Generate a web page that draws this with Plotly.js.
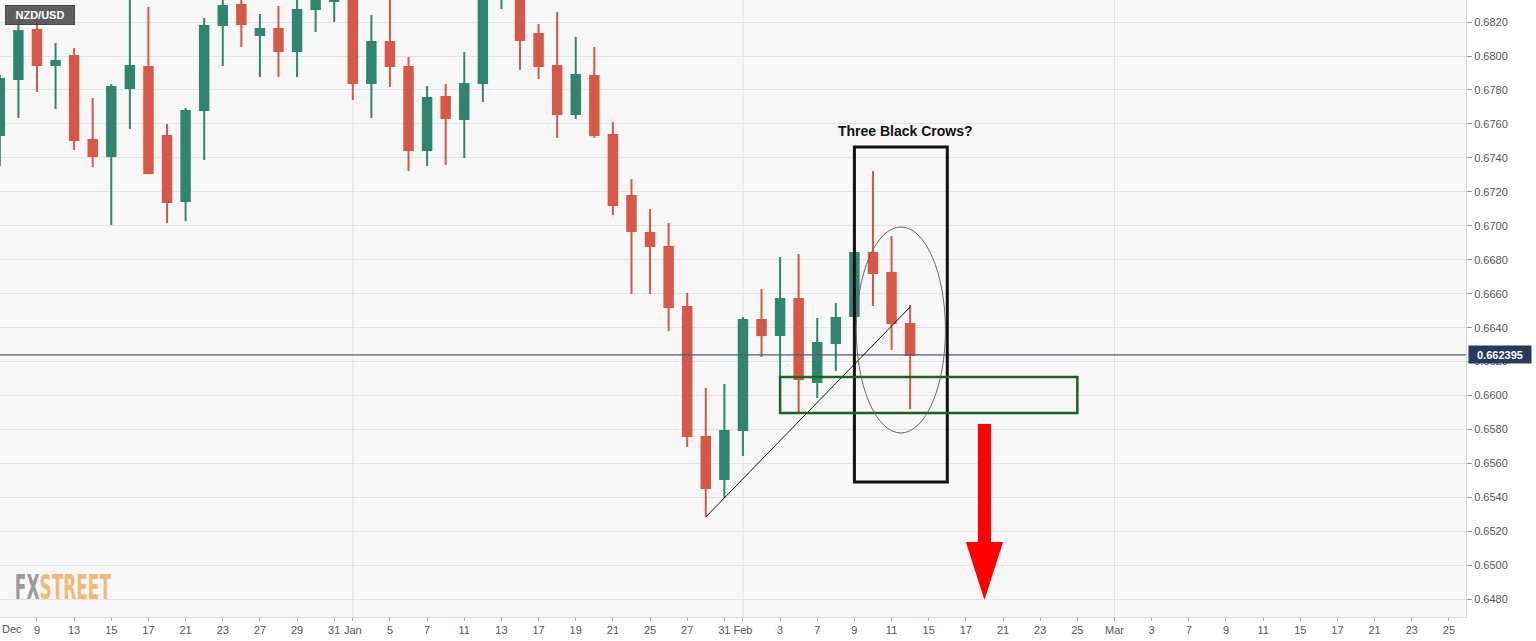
<!DOCTYPE html>
<html>
<head>
<meta charset="utf-8">
<script src="https://cdn.plot.ly/plotly-3.0.1.min.js"></script>
<style>
html,body{margin:0;padding:0;background:#ffffff;}
#chart{width:1536px;height:641px;}
</style>
</head>
<body>
<div id="chart"></div>
<script>
// ---- data (daily NZD/USD candles) ----
const dates = [
  '2021-12-07','2021-12-08','2021-12-09','2021-12-10','2021-12-13','2021-12-14','2021-12-15','2021-12-16','2021-12-17',
  '2021-12-20','2021-12-21','2021-12-22','2021-12-23','2021-12-24','2021-12-27','2021-12-28','2021-12-29','2021-12-30','2021-12-31',
  '2022-01-03','2022-01-04','2022-01-05','2022-01-06','2022-01-07','2022-01-10','2022-01-11','2022-01-12','2022-01-13','2022-01-14',
  '2022-01-17','2022-01-18','2022-01-19','2022-01-20','2022-01-21','2022-01-24','2022-01-25','2022-01-26','2022-01-27','2022-01-28',
  '2022-01-31','2022-02-01','2022-02-02','2022-02-03','2022-02-04','2022-02-07','2022-02-08','2022-02-09','2022-02-10','2022-02-11',
  '2022-02-14'
];
const opens = [
  0.67535,0.67865,0.68153,0.67947,0.68000,0.67505,0.67411,0.67812,0.67935,
  0.67529,0.67146,0.67682,0.68183,0.68301,0.68124,0.68159,0.68030,0.68277,0.68324,
  0.68340,0.67841,0.68083,0.67935,0.67447,0.67759,0.67629,0.67841,0.68380,0.68420,
  0.68130,0.67941,0.67659,0.67882,0.67535,0.67176,0.66958,0.66875,0.66522,0.65756,
  0.65509,0.65797,0.66445,0.66357,0.66569,0.66080,0.66310,0.66469,0.66840,0.66722,
  0.66422
];
const highs = [
  0.67888,0.68212,0.68242,0.68077,0.68047,0.67753,0.67835,0.68360,0.68289,
  0.67600,0.67694,0.68224,0.68380,0.68370,0.68248,0.68295,0.68360,0.68400,0.68420,
  0.68400,0.68242,0.68350,0.67994,0.67823,0.67835,0.68024,0.68440,0.68500,0.68480,
  0.68189,0.68259,0.68112,0.68053,0.67611,0.67276,0.67099,0.67017,0.66604,0.66045,
  0.66068,0.66463,0.66628,0.66816,0.66834,0.66457,0.66545,0.66846,0.67323,0.66940,
  0.66534
];
const lows = [
  0.67352,0.67635,0.67788,0.67688,0.67447,0.67346,0.67005,0.67570,0.67305,
  0.67017,0.67028,0.67388,0.67941,0.68053,0.67876,0.67876,0.67876,0.68142,0.68200,
  0.67741,0.67635,0.67818,0.67323,0.67352,0.67358,0.67399,0.67729,0.68277,0.67918,
  0.67865,0.67517,0.67629,0.67517,0.67064,0.66598,0.66598,0.66380,0.65697,0.65285,
  0.65397,0.65644,0.66227,0.66109,0.65892,0.65986,0.66145,0.66463,0.66528,0.66269,
  0.65921
];
const closes = [
  0.67865,0.68147,0.67947,0.67971,0.67505,0.67411,0.67818,0.67941,0.67311,
  0.67140,0.67676,0.68177,0.68295,0.68189,0.68159,0.68030,0.68271,0.68324,0.68380,
  0.67841,0.68083,0.67941,0.67447,0.67753,0.67635,0.67835,0.68400,0.68450,0.68094,
  0.67941,0.67659,0.67888,0.67535,0.67123,0.66969,0.66881,0.66522,0.65762,0.65456,
  0.65791,0.66445,0.66357,0.66569,0.66098,0.66310,0.66457,0.66840,0.66722,0.66428,
  0.662395
];
// future trading days shown on the axis (no candles yet)
const futureDays = [
  '2022-02-15','2022-02-16','2022-02-17','2022-02-18','2022-02-21','2022-02-22','2022-02-23','2022-02-24','2022-02-25','2022-02-28',
  '2022-03-01','2022-03-02','2022-03-03','2022-03-04','2022-03-07','2022-03-08','2022-03-09','2022-03-10','2022-03-11',
  '2022-03-14','2022-03-15','2022-03-16','2022-03-17','2022-03-18','2022-03-21','2022-03-22','2022-03-23','2022-03-24','2022-03-25',
  '2022-03-28','2022-03-29'
];
// x tick labels
const tickDays = [
  '2021-12-09','2021-12-13','2021-12-15','2021-12-17','2021-12-21','2021-12-23','2021-12-27','2021-12-29','2021-12-31',
  '2022-01-03','2022-01-05','2022-01-07','2022-01-11','2022-01-13','2022-01-17','2022-01-19','2022-01-21','2022-01-25','2022-01-27','2022-01-31',
  '2022-02-01','2022-02-03','2022-02-07','2022-02-09','2022-02-11','2022-02-15','2022-02-17','2022-02-21','2022-02-23','2022-02-25',
  '2022-03-01','2022-03-03','2022-03-07','2022-03-09','2022-03-11','2022-03-15','2022-03-17','2022-03-21','2022-03-23','2022-03-25'
];
const tickLabels = [
  '9','13','15','17','21','23','27','29','31',
  'Jan','5','7','11','13','17','19','21','25','27','31',
  'Feb','3','7','9','11','15','17','21','23','25',
  'Mar','3','7','9','11','15','17','21','23','25'
];
const monthStarts = ['2022-01-03','2022-02-01','2022-03-01'];
const symbol = 'NZD/USD';
const lastPrice = 0.662395;
const patternLabel = 'Three Black Crows?';

// ---- build ----
const allDays = dates.concat(futureDays);
const idx = d => allDays.indexOf(d);

const trace = {
  type: 'candlestick',
  x: dates, open: opens, high: highs, low: lows, close: closes,
  increasing: {line: {color: '#31856f', width: 2}, fillcolor: '#31856f'},
  decreasing: {line: {color: '#d65846', width: 2}, fillcolor: '#d65846'},
  whiskerwidth: 0,
  hoverinfo: 'skip',
  showlegend: false
};

const shapes = [];
monthStarts.forEach(d => shapes.push({
  type: 'line', xref: 'x', yref: 'paper', x0: idx(d), x1: idx(d), y0: 0, y1: 1,
  line: {color: '#e2e2e2', width: 1}, layer: 'below'
}));
// current price line
shapes.push({type: 'line', xref: 'paper', yref: 'y', x0: 0, x1: 1, y0: lastPrice, y1: lastPrice,
  line: {color: '#4d5d78', width: 1.3}});
// trendline from Jan 28 low
shapes.push({type: 'line', xref: 'x', yref: 'y', x0: idx('2022-01-28'), y0: 0.65285, x1: idx('2022-02-14'), y1: 0.66522,
  line: {color: '#111111', width: 1}});
// big black box
shapes.push({type: 'rect', xref: 'x', yref: 'y', x0: idx('2022-02-09'), x1: idx('2022-02-16'), y0: 0.65491, y1: 0.67464,
  line: {color: '#111111', width: 3}});
// green support box
shapes.push({type: 'rect', xref: 'x', yref: 'y', x0: idx('2022-02-03'), x1: idx('2022-02-25'), y0: 0.65897, y1: 0.66109,
  line: {color: '#1e6121', width: 2.5}});
// ellipse
shapes.push({type: 'circle', xref: 'x', yref: 'y', x0: idx('2022-02-09') + 0.1, x1: idx('2022-02-16') - 0.1, y0: 0.65780, y1: 0.66993,
  line: {color: '#666666', width: 1}});
// red down arrow
const ax = idx('2022-02-18');
shapes.push({type: 'path', xref: 'x', yref: 'y', fillcolor: '#ff0000', line: {width: 0},
  path: `M ${ax - 0.35} 0.65833 L ${ax + 0.35} 0.65833 L ${ax + 0.35} 0.65138 L ${ax + 1.0} 0.65138 L ${ax} 0.64796 L ${ax - 1.0} 0.65138 L ${ax - 0.35} 0.65138 Z`});

const fontFam = 'Liberation Sans, Arial, sans-serif';
const annotations = [
  {xref: 'x', yref: 'y', x: idx('2022-02-14') - 0.26, y: 0.67558, text: '<b>' + patternLabel + '</b>', showarrow: false,
   font: {family: fontFam, size: 14, color: '#111111'}},
  {xref: 'paper', yref: 'paper', x: 0.0034, y: 0.992, xanchor: 'left', yanchor: 'top', text: '<b>' + symbol + '</b>',
   showarrow: false, font: {family: fontFam, size: 11, color: '#ffffff'}, bgcolor: 'rgba(80,80,80,0.92)',
   bordercolor: 'rgba(60,60,60,0.9)', borderwidth: 1, borderpad: 2, width: 64, height: 14},
  {xref: 'paper', yref: 'y', x: 1, xshift: 2, y: lastPrice, xanchor: 'left', yanchor: 'middle', text: '<b>' + lastPrice.toFixed(6) + '</b>',
   showarrow: false, font: {family: fontFam, size: 11, color: '#ffffff'}, bgcolor: '#243b5e', borderpad: 2, width: 58, height: 13},
  {xref: 'paper', yref: 'paper', x: 0, y: 0, yshift: -4, xanchor: 'left', yanchor: 'top', text: 'Dec', showarrow: false,
   font: {family: fontFam, size: 11, color: '#555555'}},
  {xref: 'paper', yref: 'paper', x: 0.0095, y: 0.048, xanchor: 'left', yanchor: 'middle',
   text: '<span style="color:#9a9a9a">FX</span><span style="color:#f1b978">STREET</span>', showarrow: false,
   font: {family: 'DejaVu Sans Condensed, Liberation Sans, sans-serif', size: 34, weight: 700}}
];

const layout = {
  width: 1536, height: 641,
  margin: {l: 0, r: 70, t: 0, b: 24, pad: 0},
  paper_bgcolor: '#ffffff', plot_bgcolor: '#f7f7f7',
  showlegend: false,
  boxgap: 0.35,
  font: {family: fontFam, size: 11, color: '#555555'},
  xaxis: {
    type: 'category', categoryorder: 'array', categoryarray: allDays,
    range: [0.01, 78.92], rangeslider: {visible: false}, fixedrange: true,
    tickmode: 'array', tickvals: tickDays, ticktext: tickLabels,
    ticks: 'outside', ticklen: 3, tickcolor: '#aaaaaa', tickfont: {size: 11, color: '#555555'},
    showgrid: false, zeroline: false, showline: true, linecolor: '#d6dae4', mirror: true
  },
  yaxis: {
    side: 'right', range: [0.64696, 0.68330], fixedrange: true,
    tickmode: 'linear', tick0: 0.648, dtick: 0.002, tickformat: '.4f',
    ticks: 'outside', ticklen: 5, tickcolor: '#999999', tickfont: {size: 11, color: '#555555'},
    gridcolor: '#e3e3e3', gridwidth: 1, zeroline: false, showline: true, linecolor: '#d6dae4', mirror: true
  },
  shapes: shapes,
  annotations: annotations
};

Plotly.newPlot('chart', [trace], layout, {displayModeBar: false, staticPlot: true}).then(gd => {
  // squeeze the logo text horizontally to mimic the condensed brand font
  const logo = gd.querySelector('.annotation[data-index="4"]');
  if (logo) {
    const bb = logo.getBBox();
    const targetW = 98, x0 = 14;
    const s = targetW / bb.width;
    logo.setAttribute('transform', `translate(${x0},0) scale(${s},1) translate(${-bb.x},0)`);
  }
});
</script>
</body>
</html>
